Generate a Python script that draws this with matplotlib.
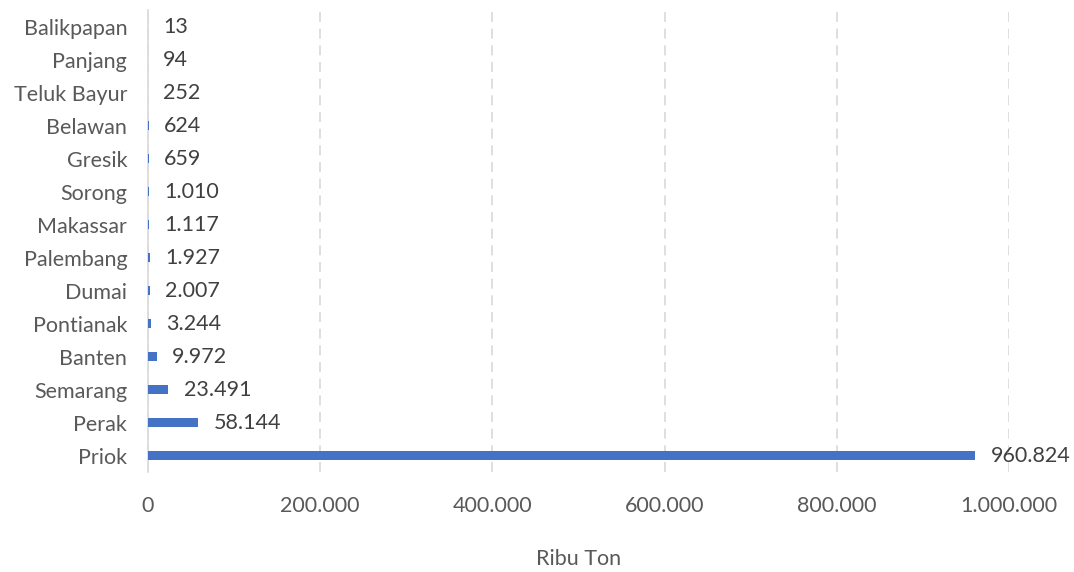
import matplotlib.pyplot as plt
import numpy as np

# Port throughput data (Ribu Ton)
ports = ['Priok', 'Perak', 'Semarang', 'Banten', 'Pontianak', 'Dumai', 'Palembang',
         'Makassar', 'Sorong', 'Gresik', 'Belawan', 'Teluk Bayur', 'Panjang', 'Balikpapan']
values = [960824, 58144, 23491, 9972, 3244, 2007, 1927, 1117, 1010, 659, 624, 252, 94, 13]
xticks = [0, 200000, 400000, 600000, 800000, 1000000]


def fmt(v):
    return f'{v:,}'.replace(',', '.')


plt.rcParams['font.family'] = ['Lato', 'DejaVu Sans']
text_color = '#595959'
fs = 15.5

fig = plt.figure(figsize=(10.74, 5.72), dpi=100)
ax = fig.add_axes([0.1378, 0.1748, 0.8017, 0.8077])

y = np.arange(len(ports))
ax.barh(y, values, height=0.3, color='#4472C4', zorder=3)

# data labels
for yi, v in zip(y, values):
    ax.annotate(fmt(v), xy=(v, yi), xytext=(11, 0), textcoords='offset points',
                va='center', ha='left', fontsize=fs, color='#404040')

ax.set_xlim(0, 1000000)
ax.set_ylim(-0.5, len(ports) - 0.5)
ax.set_yticks(y)
ax.set_yticklabels(ports, fontsize=fs, color=text_color)
ax.set_xticks(xticks)
ax.set_xticklabels([fmt(t) for t in xticks], fontsize=fs, color=text_color)
ax.tick_params(axis='both', length=0)
ax.tick_params(axis='x', pad=17)
ax.tick_params(axis='y', pad=15)

# dashed vertical gridlines
ax.grid(axis='x', color='#D9D9D9', linestyle=(0, (6, 4)), linewidth=1.2, zorder=0)
ax.grid(axis='y', visible=False)

for side in ['top', 'right', 'bottom']:
    ax.spines[side].set_visible(False)
ax.spines['left'].set_color('#D9D9D9')
ax.spines['left'].set_linewidth(1.2)

ax.set_xlabel('Ribu Ton', fontsize=fs, color=text_color, labelpad=24)

fig.savefig('out.png', dpi=100)
